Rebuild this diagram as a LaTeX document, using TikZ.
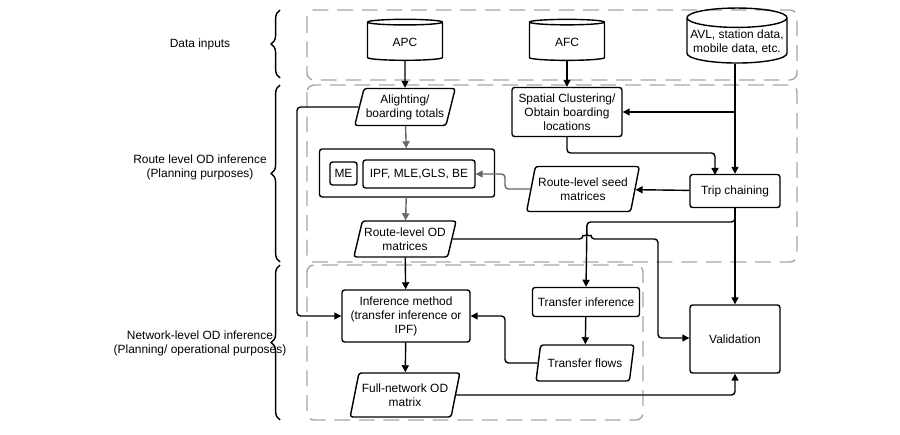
\documentclass[tikz,border=0pt]{standalone}
\usepackage{fontspec}
\setmainfont{Liberation Sans}
\usetikzlibrary{shapes.geometric, positioning, calc, arrows.meta, decorations.pathreplacing}

\begin{document}
\begin{tikzpicture}[x=0.02cm, y=-0.02cm,
    font=\fontsize{6.8}{8}\selectfont,
    box/.style={draw, thick, rounded corners=1.5pt, align=center, inner sep=1pt},
    data/.style={draw, thick, trapezium, trapezium left angle=72, trapezium right angle=108,
      trapezium stretches=true, rounded corners=1.5pt, align=center, inner sep=1pt},
    store/.style={draw, thick, cylinder, shape border rotate=90, aspect=0.2, align=center, inner sep=1pt},
    group/.style={draw=gray!70, thick, dash pattern=on 9pt off 5pt, rounded corners=4pt},
    line/.style={thick, -{Triangle[length=4pt,width=4pt]}, rounded corners=2pt},
    gline/.style={line, draw=gray!80!black},
    brace/.style={thick, decorate, decoration={brace, amplitude=5pt}}]

  \useasboundingbox (0,0) rectangle (900,435);

  % groups
  \draw[group] (307,10) rectangle (797,80);
  \draw[group] (307,85) rectangle (797,262);
  \draw[group] (307,265) rectangle (643,420);

  % braces and labels
  \draw[brace] (280,78) -- (280,10);
  \draw[brace] (280,262) -- (280,85);
  \draw[brace] (280,420) -- (280,265);
  \node[align=center] (l-data) at (200,44) {Data inputs};
  \node[align=center] (l-route) at (200,167) {Route level OD inference\\(Planning purposes)};
  \node[align=center] (l-net) at (200,343) {Network-level OD inference\\(Planning/ operational purposes)};

  % data inputs
  \node[store, minimum width=1.5cm, minimum height=0.82cm] (apc) at (405,42) {APC};
  \node[store, minimum width=1.5cm, minimum height=0.82cm] (afc) at (567,42) {AFC};
  \node[store, minimum width=2cm, minimum height=0.82cm] (avl) at (737,42) {AVL, station data,\\mobile data, etc.};

  % route level
  \node[data, minimum width=2cm, minimum height=0.74cm] (totals) at (405,107) {Alighting/\\boarding totals};
  \node[box, minimum width=2.2cm, minimum height=0.98cm] (cluster) at (567,112) {Spatial Clustering/\\Obtain boarding\\locations};
  \node[box, minimum width=3.5cm, minimum height=0.96cm] (est) at (407,173) {};
  \node[box, minimum width=0.54cm, minimum height=0.46cm] (me) at (343.5,173.5) {ME};
  \node[box, minimum width=2.24cm, minimum height=0.56cm] (ipf) at (419,174) {IPF, MLE,GLS, BE};
  \node[data, minimum width=2.26cm, minimum height=0.9cm] (seed) at (583,189) {Route-level seed\\matrices};
  \node[box, minimum width=1.8cm, minimum height=0.66cm] (chain) at (735,191) {Trip chaining};
  \node[data, minimum width=1.96cm, minimum height=0.72cm] (routeod) at (405,239) {Route-level OD\\matrices};

  % network level
  \node[box, minimum width=2.56cm, minimum height=1.04cm] (infer) at (406,316) {Inference method\\(transfer inference or\\IPF)};
  \node[box, minimum width=2.14cm, minimum height=0.58cm] (transfer) at (586,302) {Transfer inference};
  \node[data, minimum width=1.96cm, minimum height=0.72cm] (flows) at (585,363) {Transfer flows};
  \node[data, minimum width=2.2cm, minimum height=0.88cm] (fullod) at (405,395) {Full-network OD\\matrix};
  \node[box, minimum width=1.8cm, minimum height=1.36cm] (valid) at (735,339) {Validation};

  % connectors
  \draw[line] (apc) -- (totals);
  \draw[line] (afc) -- (cluster);
  \draw[line] (avl.south -| chain.north) -- (chain);
  \draw[line] (chain.north |- cluster.east) -- (cluster.east);
  \draw[line] (cluster) |- (715,153) -- (715,175);
  \draw[gline] (totals) -- (est);
  \draw[line] (totals.west) -| (297,316) -- (infer.west);
  \draw[line] (chain) -- (seed);
  \draw[gline] (seed.west) -| (505,174) -- (ipf.east);
  \draw[gline] (est) -- (routeod);
  \draw[line] (chain.south) |- (587,222) -- (transfer.north);
  \draw[line] (chain) -- (valid);
  \draw[line] (routeod.east) -- (583,239) arc[start angle=180, end angle=0, radius=0.08cm]
    -- (658,239) -- (658,338) -- (valid.west |- 0,338);
  \draw[line] (routeod) -- (infer);
  \draw[line] (transfer) -- (flows);
  \draw[line] (flows.west) -| (505,316) -- (infer.east);
  \draw[line] (infer) -- (fullod);
  \draw[line] (fullod.east) -| (valid.south);
\end{tikzpicture}
\end{document}
